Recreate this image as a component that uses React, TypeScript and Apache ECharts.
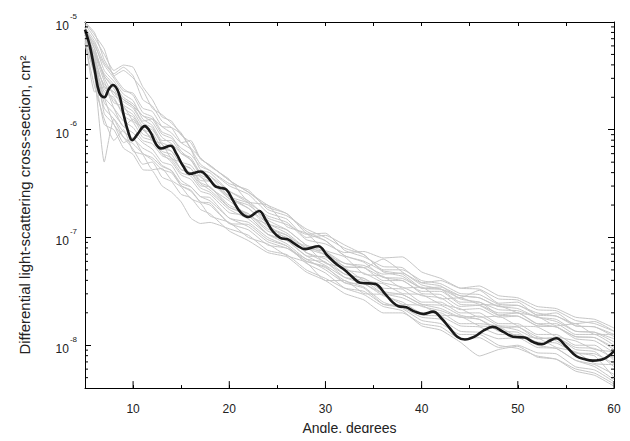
import React, { useEffect, useRef } from "react";
import * as echarts from "echarts";

// Angles (degrees) shared by the grey single-particle curves
const grayAngles = [5, 6, 7, 8, 9, 10, 11, 12, 13, 14, 15, 16, 17, 18, 20, 22, 24, 26, 28, 30, 32, 34, 36, 38, 40, 42, 44, 46, 48, 50, 52, 54, 56, 58, 60];

// log10 of the cross-section (cm^2) for each grey curve
const gray01 = [-5.02, -5.15, -5.3, -5.45, -5.4, -5.42, -5.6, -5.72, -5.88, -5.92, -6.05, -6.12, -6.27, -6.33, -6.47, -6.58, -6.72, -6.78, -6.96, -7.03, -7.17, -7.22, -7.31, -7.34, -7.47, -7.48, -7.56, -7.49, -7.61, -7.6, -7.72, -7.7, -7.82, -7.83, -7.9];
const gray02 = [-5.1, -5.5, -6.3, -5.9, -6.02, -6.08, -6.17, -6.22, -6.33, -6.38, -6.52, -6.57, -6.67, -6.68, -6.87, -6.88, -7.02, -7.08, -7.22, -7.27, -7.42, -7.47, -7.62, -7.65, -7.74, -7.76, -7.87, -7.88, -7.94, -7.93, -8.02, -8.03, -8.14, -8.18, -8.27];
const gray03 = [-5.05, -5.25, -5.5, -5.6, -5.72, -5.78, -5.87, -5.93, -6.07, -6.13, -6.22, -6.28, -6.4, -6.43, -6.57, -6.66, -6.82, -6.88, -6.97, -6.96, -7.12, -7.18, -7.27, -7.28, -7.42, -7.45, -7.57, -7.6, -7.67, -7.68, -7.74, -7.78, -7.87, -7.88, -7.97];
const gray04 = [-5.15, -5.4, -5.75, -5.85, -5.97, -6.03, -6.12, -6.18, -6.3, -6.33, -6.47, -6.53, -6.62, -6.63, -6.82, -6.86, -7.0, -7.08, -7.24, -7.33, -7.47, -7.53, -7.64, -7.68, -7.82, -7.86, -7.97, -8.1, -8.04, -8.01, -8.11, -8.13, -8.22, -8.26, -8.36];
const gray05 = [-5.08, -5.2, -5.45, -5.55, -5.67, -5.73, -5.9, -5.96, -6.1, -6.1, -6.22, -6.26, -6.4, -6.43, -6.62, -6.68, -6.8, -6.86, -7.02, -7.06, -7.14, -7.13, -7.19, -7.18, -7.32, -7.38, -7.47, -7.48, -7.57, -7.58, -7.67, -7.68, -7.77, -7.8, -7.87];
const gray06 = [-5.12, -5.35, -5.6, -5.65, -5.72, -5.78, -5.92, -5.9, -5.97, -5.98, -6.04, -6.18, -6.37, -6.4, -6.57, -6.68, -6.87, -6.93, -7.07, -7.13, -7.27, -7.28, -7.4, -7.4, -7.52, -7.53, -7.64, -7.63, -7.7, -7.7, -7.8, -7.83, -7.92, -7.93, -8.02];
const gray07 = [-5.2, -5.6, -5.9, -6.1, -6.0, -6.2, -6.23, -6.37, -6.36, -6.47, -6.53, -6.64, -6.68, -6.8, -6.86, -7.0, -7.06, -7.17, -7.23, -7.4, -7.4, -7.52, -7.53, -7.62, -7.63, -7.72, -7.73, -7.82, -7.83, -7.92, -7.93, -8.02, -8.06, -8.17, -8.18];
const gray08 = [-5.0, -5.1, -5.35, -5.5, -5.62, -5.68, -5.84, -5.88, -6.02, -6.06, -6.2, -6.28, -6.42, -6.46, -6.64, -6.73, -6.9, -6.98, -7.14, -7.2, -7.34, -7.38, -7.5, -7.53, -7.62, -7.66, -7.74, -7.76, -7.87, -7.88, -8.0, -8.03, -8.14, -8.2, -8.32];
const gray09 = [-5.1, -5.3, -5.55, -5.75, -5.78, -5.92, -5.98, -6.1, -6.13, -6.27, -6.3, -6.42, -6.43, -6.54, -6.66, -6.8, -6.88, -7.02, -7.08, -7.24, -7.28, -7.4, -7.43, -7.52, -7.53, -7.62, -7.66, -7.74, -7.73, -7.82, -7.83, -7.92, -7.96, -8.04, -8.06];
const gray10 = [-5.15, -5.4, -5.65, -5.7, -5.87, -5.93, -6.07, -6.1, -6.22, -6.26, -6.37, -6.4, -6.52, -6.53, -6.72, -6.78, -6.92, -6.98, -7.1, -7.13, -7.24, -7.26, -7.34, -7.33, -7.42, -7.4, -7.47, -7.45, -7.54, -7.56, -7.64, -7.66, -7.74, -7.76, -7.84];
const gray11 = [-5.1, -5.45, -5.8, -5.9, -6.07, -6.13, -6.22, -6.28, -6.37, -6.4, -6.52, -6.56, -6.67, -6.7, -6.87, -6.93, -7.07, -7.1, -7.22, -7.28, -7.4, -7.46, -7.6, -7.66, -7.77, -7.8, -7.9, -7.9, -8.0, -8.03, -8.1, -8.13, -8.24, -8.28, -8.38];
const gray12 = [-5.05, -5.22, -5.4, -5.52, -5.64, -5.66, -5.8, -5.83, -5.97, -6.03, -6.12, -6.1, -6.27, -6.33, -6.47, -6.58, -6.7, -6.78, -6.94, -7.03, -7.17, -7.23, -7.37, -7.4, -7.5, -7.5, -7.62, -7.63, -7.72, -7.7, -7.8, -7.8, -7.9, -7.9, -8.0];
const gray13 = [-5.18, -5.5, -5.95, -6.0, -6.17, -6.23, -6.37, -6.38, -6.52, -6.58, -6.67, -6.82, -6.87, -6.86, -6.92, -6.98, -7.12, -7.16, -7.3, -7.38, -7.47, -7.5, -7.62, -7.63, -7.72, -7.73, -7.82, -7.83, -7.9, -7.9, -7.97, -7.98, -8.07, -8.08, -8.17];
const gray14 = [-5.12, -5.28, -5.5, -5.62, -5.77, -5.83, -5.97, -6.0, -6.12, -6.16, -6.3, -6.33, -6.44, -6.48, -6.64, -6.7, -6.84, -6.93, -7.07, -7.16, -7.27, -7.28, -7.2, -7.32, -7.44, -7.48, -7.6, -7.6, -7.72, -7.73, -7.82, -7.83, -7.94, -7.96, -8.07];
const gray15 = [-5.2, -5.45, -5.7, -5.8, -5.92, -5.98, -6.1, -6.13, -6.24, -6.28, -6.4, -6.43, -6.54, -6.58, -6.74, -6.83, -6.97, -7.03, -7.17, -7.26, -7.37, -7.4, -7.52, -7.53, -7.62, -7.63, -7.72, -7.76, -7.84, -7.83, -7.94, -7.93, -8.02, -8.03, -8.12];
const gray16 = [-5.05, -5.18, -5.38, -5.48, -5.42, -5.5, -5.72, -5.78, -5.92, -5.98, -6.12, -6.18, -6.32, -6.38, -6.52, -6.6, -6.77, -6.83, -7.0, -6.98, -7.07, -7.16, -7.3, -7.3, -7.4, -7.43, -7.52, -7.53, -7.62, -7.63, -7.7, -7.73, -7.8, -7.78, -7.87];
const gray17 = [-5.1, -5.35, -5.85, -5.95, -6.12, -6.08, -6.22, -6.26, -6.34, -6.38, -6.5, -6.53, -6.62, -6.66, -6.82, -6.9, -7.04, -7.1, -7.2, -7.3, -7.42, -7.43, -7.54, -7.6, -7.7, -7.7, -7.8, -7.8, -7.82, -7.83, -7.92, -7.96, -8.07, -8.1, -8.3];
const gray18 = [-5.08, -5.25, -5.52, -5.68, -5.74, -5.8, -5.94, -5.98, -6.14, -6.2, -6.32, -6.36, -6.49, -6.53, -6.7, -6.78, -6.94, -7.0, -7.14, -7.23, -7.34, -7.38, -7.47, -7.48, -7.6, -7.6, -7.7, -7.7, -7.8, -7.8, -7.9, -7.9, -8.0, -8.0, -8.14];
const gray19 = [-5.0, -5.12, -5.25, -5.5, -5.45, -5.52, -5.63, -5.8, -5.86, -5.94, -6.03, -6.17, -6.26, -6.34, -6.46, -6.67, -6.7, -6.9, -6.96, -7.12, -7.18, -7.34, -7.36, -7.47, -7.46, -7.57, -7.56, -7.62, -7.63, -7.7, -7.73, -7.82, -7.8, -7.9, -7.9];
const gray20 = [-5.15, -5.65, -5.6, -5.8, -5.97, -5.9, -6.04, -6.08, -6.22, -6.3, -6.42, -6.46, -6.57, -6.6, -6.77, -6.8, -6.97, -7.06, -7.2, -7.23, -7.37, -7.43, -7.52, -7.56, -7.64, -7.68, -7.74, -7.73, -7.82, -7.86, -7.94, -7.93, -8.04, -8.06, -8.2];
const gray21 = [-5.05, -5.3, -5.48, -5.58, -5.7, -5.76, -5.87, -5.9, -6.04, -6.08, -6.17, -6.23, -6.34, -6.38, -6.5, -6.56, -6.74, -6.8, -6.92, -7.0, -7.1, -7.16, -7.32, -7.36, -7.47, -7.46, -7.54, -7.56, -7.64, -7.66, -7.74, -7.76, -7.87, -7.88, -7.94];
const gray22 = [-5.1, -5.38, -5.7, -5.95, -6.07, -6.18, -6.32, -6.3, -6.44, -6.48, -6.6, -6.63, -6.74, -6.78, -6.94, -7.03, -7.14, -7.18, -7.32, -7.4, -7.52, -7.58, -7.7, -7.7, -7.8, -7.83, -7.94, -7.93, -8.02, -8.0, -8.07, -8.08, -8.2, -8.23, -8.34];
const gray23 = [-5.12, -5.4, -5.58, -5.65, -5.8, -5.86, -6.0, -6.08, -6.2, -6.23, -6.37, -6.4, -6.5, -6.56, -6.72, -6.8, -6.97, -7.03, -7.17, -7.18, -7.3, -7.33, -7.42, -7.46, -7.54, -7.56, -7.67, -7.66, -7.74, -7.73, -7.82, -7.83, -7.92, -7.93, -8.04];
const gray24 = [-5.08, -5.32, -5.62, -5.72, -5.84, -5.88, -6.0, -6.03, -6.17, -6.2, -6.32, -6.36, -6.47, -6.48, -6.62, -6.73, -6.87, -6.96, -7.1, -7.16, -7.24, -7.28, -7.37, -7.38, -7.47, -7.48, -7.54, -7.56, -7.64, -7.63, -7.72, -7.73, -7.82, -7.83, -7.92];

const grayRuns = [gray01, gray02, gray03, gray04, gray05, gray06, gray07, gray08, gray09, gray10, gray11, gray12, gray13, gray14, gray15, gray16, gray17, gray18, gray19, gray20, gray21, gray22, gray23, gray24];

// Averaged (black) curve
const blackAngles = [5.0, 5.5, 6.0, 6.5, 7.0, 7.5, 7.9, 8.5, 9.0, 9.5, 9.9, 10.5, 11.2, 11.8, 12.4, 12.9, 13.9, 14.5, 15.2, 15.9, 17.0, 17.8, 18.5, 19.0, 19.7, 20.4, 21.2, 22.0, 23.1, 23.8, 24.5, 25.3, 26.1, 27.0, 27.9, 29.25, 30.2, 31.2, 32.0, 32.8, 33.6, 34.5, 35.2, 36.2, 37.0, 37.6, 38.4, 39.3, 40.2, 41.2, 42.0, 42.9, 43.7, 44.5, 45.5, 46.5, 47.4, 48.5, 49.5, 50.7, 51.6, 52.5, 53.3, 54.0, 55.0, 56.1, 57.0, 57.8, 59.0, 60.0];
const blackValues = [8.5e-6, 6.0e-6, 3.6e-6, 2.2e-6, 2.0e-6, 2.4e-6, 2.6e-6, 2.2e-6, 1.4e-6, 9.5e-7, 8.0e-7, 9.2e-7, 1.08e-6, 9.5e-7, 7.3e-7, 6.7e-7, 7.1e-7, 6.0e-7, 4.6e-7, 3.9e-7, 4.1e-7, 3.6e-7, 3.0e-7, 2.9e-7, 2.78e-7, 2.2e-7, 1.7e-7, 1.55e-7, 1.76e-7, 1.45e-7, 1.15e-7, 9.9e-8, 9.6e-8, 8.5e-8, 7.8e-8, 8.3e-8, 6.8e-8, 5.6e-8, 5.0e-8, 4.3e-8, 3.8e-8, 3.75e-8, 3.7e-8, 3.0e-8, 2.5e-8, 2.3e-8, 2.25e-8, 2.05e-8, 1.95e-8, 2.05e-8, 1.8e-8, 1.45e-8, 1.2e-8, 1.13e-8, 1.2e-8, 1.38e-8, 1.48e-8, 1.33e-8, 1.2e-8, 1.18e-8, 1.07e-8, 1.02e-8, 1.1e-8, 1.16e-8, 9.8e-9, 7.9e-9, 7.4e-9, 7.2e-9, 7.5e-9, 8.8e-9];

// Axis tick labels
const xLabelValues = [10, 20, 30, 40, 50, 60];

const xMin = 5;
const xMax = 60;
const yMin = 4e-9;
const yMax = 1e-5;

const FONT = "Liberation Sans, Arial, sans-serif";

export default function App() {
  const ref = useRef<HTMLDivElement>(null);

  useEffect(() => {
    if (!ref.current) return;
    const chart = echarts.init(ref.current, undefined, { renderer: "svg" });

    const minorTicks: number[][] = [];
    for (let k = -9; k <= -6; k++) {
      for (let m = 2; m <= 9; m++) {
        const v = m * Math.pow(10, k);
        if (v > yMin && v < yMax) minorTicks.push([xMin, v]);
      }
    }

    const powLabel = (v: number) => {
      const e = Math.log10(v);
      if (Math.abs(e - Math.round(e)) > 1e-6) return "";
      return "{b|10}{e|" + Math.round(e) + "}";
    };

    const graySeries = grayRuns.map((run, i) => ({
      type: "line",
      name: "run" + (i + 1),
      data: run.map((lv, j) => [grayAngles[j], Math.pow(10, lv)]),
      showSymbol: false,
      symbol: "none",
      smooth: 0.15,
      lineStyle: { color: "#c6c6c6", width: 1 },
      z: 2,
      silent: true,
    }));

    chart.setOption({
      animation: false,
      grid: { left: 85, right: 16, top: 22, bottom: 45, containLabel: false },
      xAxis: [
        {
          type: "value",
          min: xMin,
          max: xMax,
          interval: 5,
          position: "bottom",
          name: "Angle, degrees",
          nameLocation: "middle",
          nameGap: 25,
          nameTextStyle: { fontFamily: FONT, fontSize: 14, color: "#222", lineHeight: 16 },
          axisLine: { show: true, lineStyle: { color: "#000", width: 1 } },
          axisTick: { show: true, inside: true, length: 3, lineStyle: { color: "#000" } },
          axisLabel: {
            fontFamily: FONT,
            fontSize: 12,
            color: "#222",
            margin: 15,
            formatter: (v: number) => (xLabelValues.indexOf(v) >= 0 ? String(v) : ""),
          },
          splitLine: { show: false },
        },
        {
          type: "value",
          min: xMin,
          max: xMax,
          interval: 5,
          position: "top",
          axisLine: { show: true, lineStyle: { color: "#000", width: 1 } },
          axisTick: { show: true, inside: true, length: 4, lineStyle: { color: "#000" } },
          axisLabel: { show: false },
          splitLine: { show: false },
        },
      ],
      yAxis: [
        {
          type: "log",
          logBase: 10,
          min: yMin,
          max: yMax,
          position: "left",
          name: "Differential light-scattering cross-section, cm\u00B2",
          nameLocation: "middle",
          nameGap: 53,
          nameRotate: 90,
          nameTextStyle: { fontFamily: FONT, fontSize: 15, color: "#222" },
          axisLine: { show: true, lineStyle: { color: "#000", width: 1 } },
          axisTick: { show: true, inside: true, length: 6, lineStyle: { color: "#000" } },
          axisLabel: {
            fontFamily: FONT,
            color: "#222",
            margin: 8,
            formatter: powLabel,
            rich: {
              b: { fontFamily: FONT, fontSize: 12, color: "#222", verticalAlign: "bottom", lineHeight: 20 },
              e: { fontFamily: FONT, fontSize: 8, color: "#222", verticalAlign: "top", lineHeight: 20, padding: [0, 0, 0, 1] },
            },
          },
          splitLine: { show: false },
        },
        {
          type: "log",
          logBase: 10,
          min: yMin,
          max: yMax,
          position: "right",
          axisLine: { show: true, lineStyle: { color: "#000", width: 1 } },
          axisTick: { show: true, inside: true, length: 6, lineStyle: { color: "#000" } },
          axisLabel: { show: false },
          splitLine: { show: false },
        },
      ],
      series: [
        ...graySeries,
        {
          type: "line",
          name: "average",
          data: blackAngles.map((a, i) => [a, blackValues[i]]),
          showSymbol: false,
          symbol: "none",
          smooth: 0.4,
          lineStyle: { color: "#1a1a1a", width: 2.6 },
          z: 5,
          silent: true,
        },
        {
          type: "custom",
          name: "minorLogTicks",
          coordinateSystem: "cartesian2d",
          clip: false,
          silent: true,
          z: 10,
          data: minorTicks,
          renderItem: (_params: any, api: any) => {
            const v = api.value(1);
            const l = api.coord([xMin, v]);
            const r = api.coord([xMax, v]);
            return {
              type: "group",
              children: [
                { type: "line", shape: { x1: l[0], y1: l[1], x2: l[0] + 3, y2: l[1] }, style: { stroke: "#000", lineWidth: 1 } },
                { type: "line", shape: { x1: r[0] - 3, y1: r[1], x2: r[0], y2: r[1] }, style: { stroke: "#000", lineWidth: 1 } },
              ],
            };
          },
        },
        {
          type: "custom",
          name: "majorAngleTicks",
          coordinateSystem: "cartesian2d",
          clip: false,
          silent: true,
          z: 10,
          data: xLabelValues.map((v) => [v, yMin]),
          renderItem: (_params: any, api: any) => {
            const p = api.coord([api.value(0), yMin]);
            return {
              type: "line",
              shape: { x1: p[0], y1: p[1], x2: p[0], y2: p[1] - 7 },
              style: { stroke: "#000", lineWidth: 1 },
            };
          },
        },
      ],
    });

    return () => chart.dispose();
  }, []);

  return <div ref={ref} style={{ width: 630, height: 441, margin: -8 }} />;
}
